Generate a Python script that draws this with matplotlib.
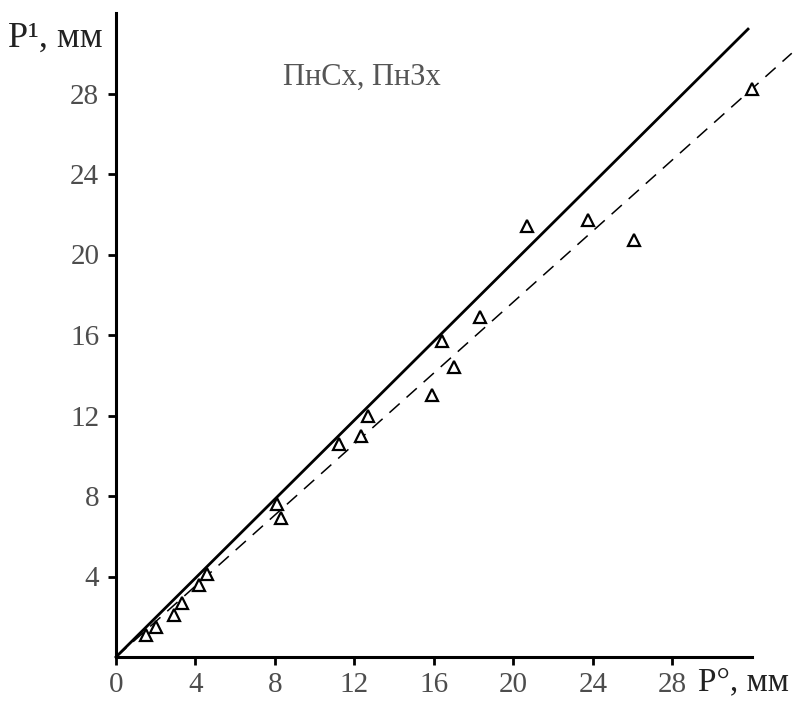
import matplotlib
matplotlib.use("Agg")
import matplotlib.pyplot as plt

# measured points (P° , P¹), mm
p0 = [32.0, 26.05, 23.75, 20.7, 18.3, 16.4, 17.0, 15.9, 12.7, 12.35, 11.2,
      8.1, 8.3, 4.6, 4.2, 3.3, 2.9, 2.0, 1.5]
p1 = [28.2, 20.7, 21.7, 21.4, 16.9, 15.7, 14.4, 13.0, 12.0, 11.0, 10.6,
      7.6, 6.9, 4.1, 3.6, 2.7, 2.1, 1.5, 1.1]

# solid line (P¹ = P°) and dashed fitted line, endpoints
solid_x = [0, 31.8]
solid_y = [0, 31.2]
dash_x = [0, 34.0]
dash_y = [0, 30.0]

ticks = [0, 4, 8, 12, 16, 20, 24, 28]
title_text = "ПнСх, ПнЗх"

plt.rcParams['font.family'] = ['Liberation Serif', 'DejaVu Serif']

fig = plt.figure(figsize=(8.12, 7.11), dpi=100)
ax = fig.add_axes([116 / 812, 1 - 657 / 711, (752 - 116) / 812, (657 - 13) / 711])

ax.plot(solid_x, solid_y, color='black', linewidth=2.0, clip_on=False, zorder=3)
ax.plot(dash_x, dash_y, color='black', linewidth=1.1, dashes=(9, 6), clip_on=False, zorder=3)
ax.plot(p0, p1, linestyle='none', marker='^', markersize=8, markerfacecolor='white',
        markeredgecolor='black', markeredgewidth=1.6, clip_on=False, zorder=4)

ax.set_xlim(0, 32)
ax.set_ylim(0, 32)
ax.set_xticks(ticks)
ax.set_yticks(ticks[1:])
ax.set_xticklabels([str(t) for t in ticks])
ax.set_yticklabels([str(t) for t in ticks[1:]])

for side in ['top', 'right']:
    ax.spines[side].set_visible(False)
for side in ['left', 'bottom']:
    ax.spines[side].set_linewidth(2.2)
    ax.spines[side].set_color('black')

ax.tick_params(axis='both', direction='out', length=6, width=2, color='black',
               labelsize=21, labelcolor='#4d4d4d', pad=6)
ax.tick_params(axis='x', pad=5)

ax.text(0.262, 0.9, title_text, transform=ax.transAxes, fontsize=22,
        color='#555555', ha='left', va='center')

fig.text(8 / 812, 1 - 38 / 711, "P¹, мм", fontsize=26, color='#222222',
         ha='left', va='center')
fig.text(698 / 812, 1 - 682 / 711, "P°, мм", fontsize=24, color='#222222',
         ha='left', va='center')

fig.savefig("out.png", dpi=100, facecolor='white')
